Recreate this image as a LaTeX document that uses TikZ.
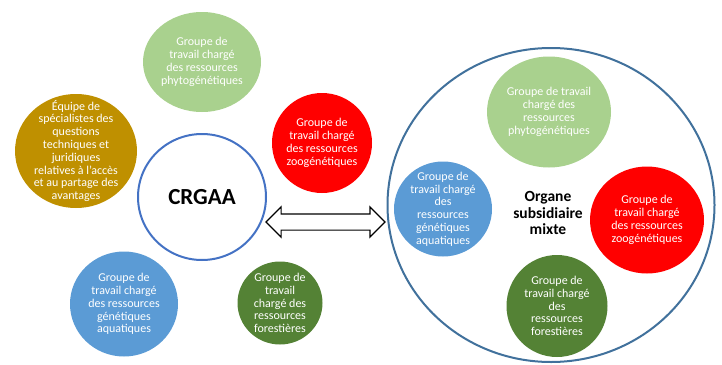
\documentclass[tikz,border=0pt]{standalone}
\usepackage{fontspec}
\setmainfont{Carlito}
\usetikzlibrary{shapes.geometric,shapes.arrows}
\definecolor{LeafGreen}{HTML}{A9D18E}
\definecolor{Mustard}{HTML}{BF9000}
\definecolor{Scarlet}{HTML}{FF0000}
\definecolor{Azure}{HTML}{5B9BD5}
\definecolor{Forest}{HTML}{548235}
\definecolor{Royal}{HTML}{4472C4}
\definecolor{Steel}{HTML}{41719C}

\begin{document}
\begin{tikzpicture}[x=1pt,y=-1pt,
    blob/.style={ellipse,inner sep=-30pt,text=white,align=center,
      font=\fontsize{12}{12.8}\selectfont},
    ring/.style={ellipse,draw,line width=2pt,fill=white,inner sep=0pt}]
  \useasboundingbox (0,0) rectangle (722,364);
  % left group
  \node[blob,fill=LeafGreen,minimum width=118pt,minimum height=100pt] (phyto) at (202,62) {Groupe de\\travail chargé\\des ressources\\phytogénétiques};
  \node[blob,fill=Mustard,minimum width=122pt,minimum height=114pt] (acces) at (76,151) {Équipe de\\spécialistes des\\questions\\techniques et\\juridiques\\relatives à l’accès\\et au partage des\\avantages};
  \node[blob,fill=Scarlet,minimum width=100pt,minimum height=100pt] (zoo) at (322,143) {Groupe de\\travail chargé\\des ressources\\zoogénétiques};
  \node[blob,fill=Azure,minimum width=108pt,minimum height=105pt] (aqua) at (124,304) {Groupe de\\travail chargé\\des ressources\\génétiques\\aquatiques};
  \node[blob,fill=Forest,minimum width=85pt,minimum height=83pt] (foret) at (280,303) {Groupe de\\travail\\chargé des\\ressources\\forestières};
  \node[ring,draw=Royal,minimum width=128pt,minimum height=126pt,font=\fontsize{23}{27}\selectfont\bfseries] (crgaa) at (202,197) {CRGAA};
  % right group
  \node[ring,draw=Steel,minimum width=327pt,minimum height=314pt] (mixte) at (551,205) {};
  \node[font=\fontsize{15.5}{16.7}\selectfont\bfseries,align=center] (mixtelabel) at (548,213) {Organe\\subsidiaire\\mixte};
  \node[blob,fill=LeafGreen,minimum width=124pt,minimum height=111pt] (phyto2) at (549,112) {Groupe de travail\\chargé des\\ressources\\phytogénétiques};
  \node[blob,fill=Azure,minimum width=98pt,minimum height=95pt] (aqua2) at (443,209) {Groupe de\\travail chargé\\des\\ressources\\génétiques\\aquatiques};
  \node[blob,fill=Scarlet,minimum width=114pt,minimum height=107pt] (zoo2) at (647,220) {Groupe de\\travail chargé\\des ressources\\zoogénétiques};
  \node[blob,fill=Forest,minimum width=101pt,minimum height=102pt] (foret2) at (557,306) {Groupe de\\travail chargé\\des\\ressources\\forestières};
  % link
  \node[double arrow,draw=black,fill=white,line width=1.2pt,inner sep=7.5pt,
    minimum height=119pt,minimum width=29pt,double arrow head extend=7pt] (link) at (325.5,222) {};
\end{tikzpicture}
\end{document}
